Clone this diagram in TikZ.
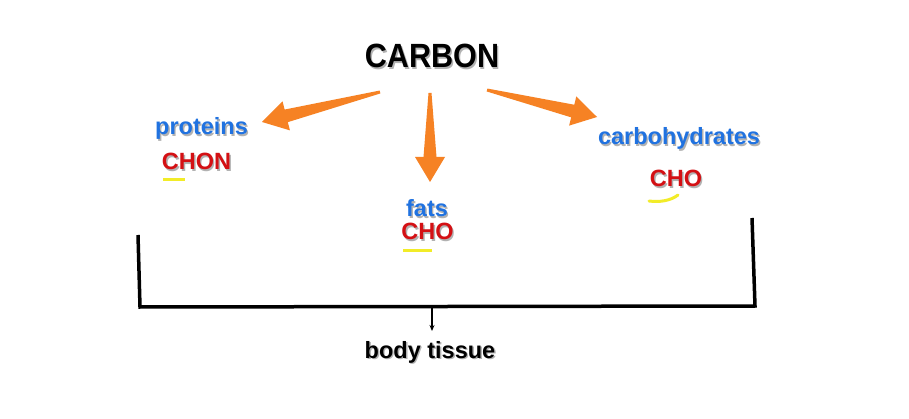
\documentclass[tikz,border=0pt]{standalone}
\usepackage{fontspec}
\setmainfont{Liberation Sans}
\usetikzlibrary{calc,arrows.meta}
\definecolor{arrorange}{RGB}{246,130,36}
\definecolor{txtblue}{RGB}{32,114,224}
\definecolor{txtred}{RGB}{212,16,20}
\definecolor{hlyellow}{RGB}{242,236,40}
\newcommand{\shtxt}[2]{\makebox[0pt][l]{\kern1.4pt\raisebox{-1.4pt}{\color{black!30}#2}}{\color{#1}#2}}
\newcommand{\blockarrow}[3]{%
  \coordinate (#1h) at ($(#3)!25pt!(#2)$);
  \fill[arrorange] ($(#2)!1.5pt!90:(#3)$) -- ($(#1h)!6.5pt!90:(#3)$) -- ($(#1h)!15pt!90:(#3)$) -- (#3)
    -- ($(#1h)!15pt!-90:(#3)$) -- ($(#1h)!6.5pt!-90:(#3)$) -- ($(#2)!1.5pt!-90:(#3)$) -- cycle;
}
\tikzset{
  lbl/.style={anchor=base, inner sep=0pt, font=\fontsize{23.5}{28}\selectfont\bfseries},
  big/.style={anchor=base, inner sep=0pt, font=\fontsize{30}{36}\selectfont\bfseries},
  hl/.style={draw=hlyellow, line width=3pt},
  bracket/.style={draw=black, line width=3.5pt, line join=miter},
}
\begin{document}
\begin{tikzpicture}[x=1pt,y=-1pt]
\useasboundingbox (0,0) rectangle (909,419);
\fill[white] (0,0) rectangle (909,419);

% texts
\node[big] (carbon) at (432,68) {\scalebox{1.02}[1.12]{\shtxt{black}{CARBON}}};
\node[lbl] (proteins) at (201.5,135) {\shtxt{txtblue}{proteins}};
\node[lbl] (chon) at (196.5,170) {\shtxt{txtred}{CHON}};
\node[lbl] (fats) at (427,217) {\shtxt{txtblue}{fats}};
\node[lbl] (chofat) at (427.5,240) {\shtxt{txtred}{CHO}};
\node[lbl] (carbo) at (679,145) {\shtxt{txtblue}{carbohydrates}};
\node[lbl] (chocarb) at (676,187) {\shtxt{txtred}{CHO}};
\node[lbl] (body) at (430,358) {\shtxt{black}{body tissue}};

% orange arrows
\coordinate (lt) at (380,92);  \coordinate (lp) at (262,122);
\coordinate (mt) at (430,93);  \coordinate (mp) at (430,182);
\coordinate (rt) at (487,90);  \coordinate (rp) at (597,117);
\blockarrow{la}{lt}{lp}
\blockarrow{ma}{mt}{mp}
\blockarrow{ra}{rt}{rp}

% yellow underlines
\draw[hl] (163,179.5) -- (185,179.5);
\draw[hl] (403,251) -- (432,251);
\draw[hl, line cap=round] (649,201) .. controls (660,202.5) and (671,200.5) .. (678,195);

% bracket
\coordinate (bl) at (138,235);
\coordinate (bl2) at (140,307);
\coordinate (br2) at (755,306);
\coordinate (br) at (752,218);
\draw[bracket] (bl) -- (bl2) -- (br2) -- (br);
\coordinate (bm) at (432,306.5);
\coordinate (bt) at (432,331);
\draw[line width=1.3pt, -{Stealth[length=6pt,width=5pt]}] (bm) -- (bt);
\end{tikzpicture}
\end{document}
